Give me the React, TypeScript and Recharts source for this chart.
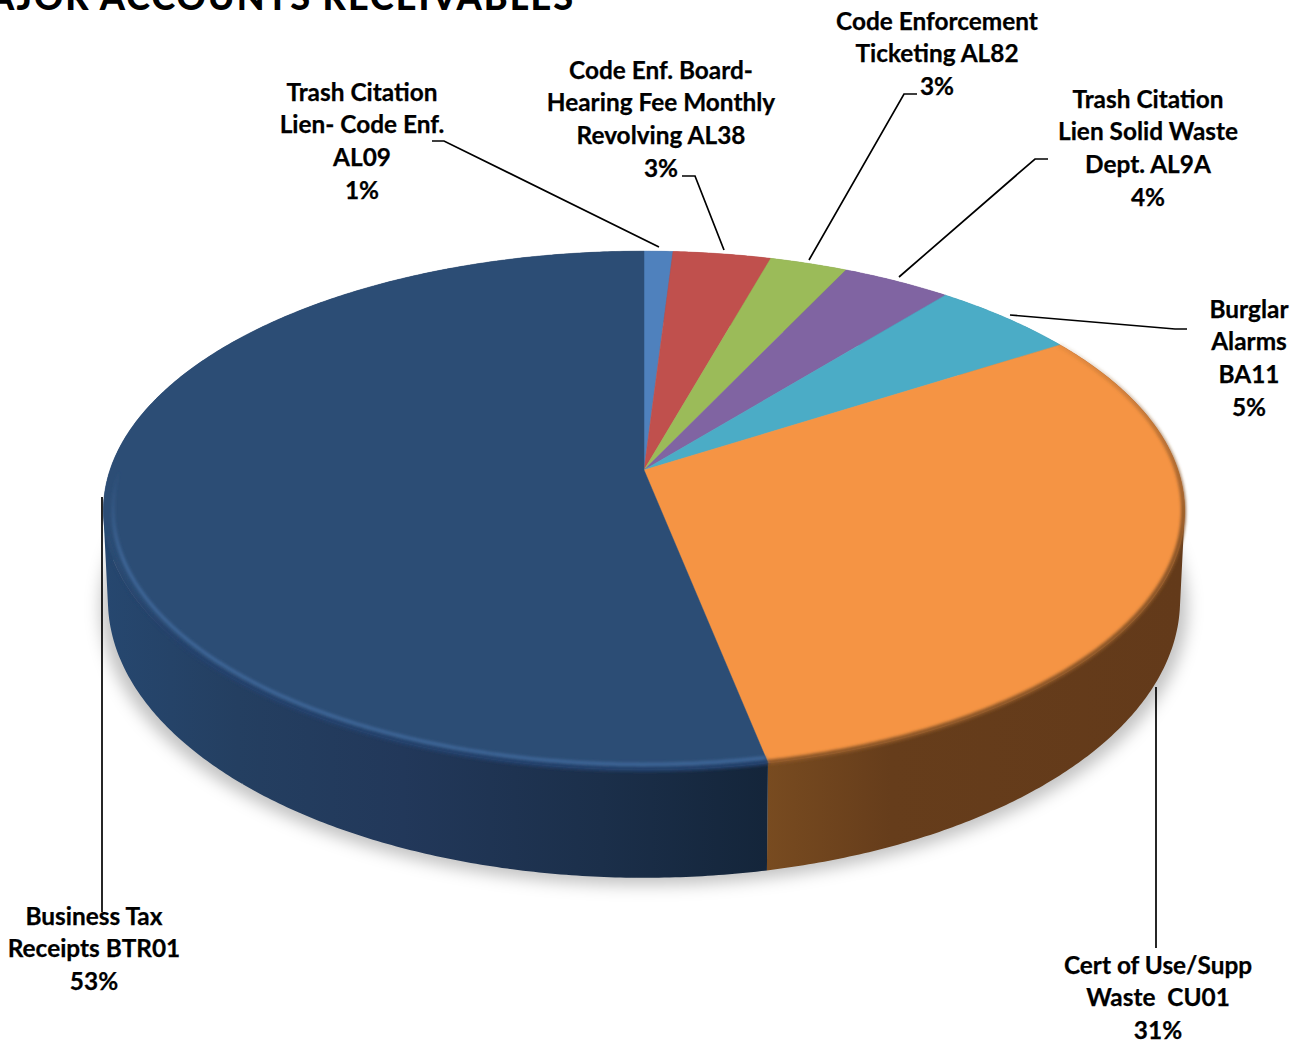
import { Pie, PieChart } from "recharts";

const names = [
  "Trash Citation Lien- Code Enf. AL09",
  "Code Enf. Board- Hearing Fee Monthly Revolving AL38",
  "Code Enforcement Ticketing AL82",
  "Trash Citation Lien Solid Waste Dept. AL9A",
  "Burglar Alarms BA11",
  "Cert of Use/Supp Waste CU01",
  "Business Tax Receipts BTR01",
];
const values = [1.0, 3.4, 2.7, 3.8, 5.1, 30.85, 53.15];
const topColors = ["#4f81bd", "#c0504d", "#9bbb59", "#8064a2", "#4bacc6", "#f59444", "#2c4d75"];
const wallColors = ["#3a5f8c", "#8e3b39", "#738b42", "#5f4a78", "#378093", "url(#wallOrange)", "url(#wallBlue)"];
const edgeColors = ["none", "none", "none", "none", "none", "url(#edgeOrange)", "url(#edgeBlue)"];
const glowColors = ["none", "none", "none", "none", "none", "none", "url(#glowBlue)"];

// label text, one entry per line
const labelLines = [
  ["Trash Citation", "Lien- Code Enf.", "AL09"],
  ["Code Enf. Board-", "Hearing Fee Monthly", "Revolving AL38"],
  ["Code Enforcement", "Ticketing AL82"],
  ["Trash Citation", "Lien Solid Waste", "Dept. AL9A"],
  ["Burglar", "Alarms", "BA11"],
  ["Cert of Use/Supp", "Waste  CU01"],
  ["Business Tax", "Receipts BTR01"],
];

// layout of the labels and leader lines (centre x, first baseline y, line points)
const labelLayout = [
  { x: 362, y: 100.7, line: "432,141 444,141 659,247" },
  { x: 661, y: 78.7, line: "682,176 695,176 724,250" },
  { x: 937, y: 29.7, line: "917,94 904,94 809,260" },
  { x: 1148, y: 107.7, line: "1048,159 1035,159 899,277" },
  { x: 1249, y: 317.7, line: "1010,315 1175,329 1187,329" },
  { x: 1158, y: 973.7, line: "1156,687 1156,948" },
  { x: 94, y: 924.7, line: "102,497 102,912" },
];

const total = values.reduce((a, b) => a + b, 0);
const topData = names.map((name, i) => ({ name, value: values[i], fill: topColors[i] }));
const wallData = names.map((name, i) => ({ name, value: values[i], fill: wallColors[i] }));
const edgeData = names.map((name, i) => ({ name, value: values[i], fill: edgeColors[i] }));
const glowData = names.map((name, i) => ({ name, value: values[i], fill: glowColors[i] }));
const shadowData = [{ name: "shadow", value: total, fill: "#000" }];

// the pie is a tilted disc, so a polar point goes through a perspective projection
const TILT = 0.156;
const TOP = { a: 1, b: 0.4738, dy: 0 };
const BOTTOM = { a: 0.9916, b: 0.5075, dy: 86.7 };
const SHADOW = { a: 1.005, b: 0.5075, dy: 94 };

type Disc = typeof TOP;

function project(cx: number, cy: number, r: number, deg: number, d: Disc) {
  const u = Math.cos((deg * Math.PI) / 180);
  const v = Math.sin((deg * Math.PI) / 180);
  const w = 1 + TILT * v;
  return [cx + (r * d.a * u) / w, cy + d.dy - (r * d.b * v) / w];
}

function arcPoints(cx: number, cy: number, r: number, start: number, end: number, d: Disc) {
  const n = Math.max(2, Math.ceil(Math.abs(end - start) * 2));
  const pts: number[][] = [];
  for (let i = 0; i <= n; i++) pts.push(project(cx, cy, r, start + ((end - start) * i) / n, d));
  return pts;
}

const fmt = (p: number[]) => `${p[0].toFixed(2)},${p[1].toFixed(2)}`;

function TopSlice(p: any) {
  const pts = arcPoints(p.cx, p.cy, p.outerRadius, p.startAngle, p.endAngle, TOP).map(fmt);
  return <path d={`M${p.cx},${p.cy}L${pts.join("L")}Z`} fill={p.fill} stroke={p.fill} strokeWidth={0.5} />;
}

// small quads between the two rims, all wound the same way so that they never cancel,
// which lets the silhouette run straight down at the sides
function WallSlice(p: any) {
  const upper = arcPoints(p.cx, p.cy, p.outerRadius, p.startAngle, p.endAngle, TOP);
  const lower = arcPoints(p.cx, p.cy, p.outerRadius, p.startAngle, p.endAngle, BOTTOM);
  let d = "";
  for (let i = 0; i < upper.length - 1; i++) {
    const quad = [upper[i], upper[i + 1], lower[i + 1], lower[i]];
    let area = 0;
    quad.forEach((a, k) => {
      const b = quad[(k + 1) % 4];
      area += a[0] * b[1] - b[0] * a[1];
    });
    if (area < 0) quad.reverse();
    d += `M${quad.map(fmt).join("L")}Z`;
  }
  return <path d={d} fill={p.fill} />;
}

function EdgeSlice(p: any) {
  if (p.fill === "none") return <g />;
  const pts = arcPoints(p.cx, p.cy, p.outerRadius * 0.998, p.startAngle, p.endAngle, TOP).map(fmt);
  return <path d={`M${pts.join("L")}`} fill="none" stroke={p.fill} strokeWidth={5} filter="url(#rimBlur)" />;
}

function GlowSlice(p: any) {
  if (p.fill === "none") return <g />;
  const pts = arcPoints(p.cx, p.cy, p.outerRadius * 0.982, p.startAngle, p.endAngle, TOP).map(fmt);
  return <path d={`M${pts.join("L")}`} fill="none" stroke={p.fill} strokeWidth={3} filter="url(#rimBlur)" />;
}

function ShadowSlice(p: any) {
  const pts = arcPoints(p.cx, p.cy, p.outerRadius, p.startAngle, p.endAngle, SHADOW).map(fmt);
  return <path d={`M${pts.join("L")}Z`} fill="#000" fillOpacity={0.24} filter="url(#shadowBlur)" />;
}

function SliceLabel(p: any) {
  const i = p.index;
  const { x, y, line } = labelLayout[i];
  const lines = [...labelLines[i], `${Math.round(values[i])}%`];
  return (
    <g>
      <polyline points={line} fill="none" stroke="#000" strokeWidth={1.7} />
      <text
        x={x}
        y={y}
        textAnchor="middle"
        fontFamily="Lato"
        fontWeight={700}
        fontSize={24.4}
        fill="#000"
        stroke="#000"
        strokeWidth={0.25}
      >
        {lines.map((t, k) => (
          <tspan key={k} x={x} y={y + k * 32.7} style={{ whiteSpace: "pre" }}>
            {t}
          </tspan>
        ))}
      </text>
    </g>
  );
}

export default function App() {
  const pieProps = {
    dataKey: "value",
    cx: 644,
    cy: 470,
    outerRadius: 534,
    startAngle: 90,
    endAngle: -270,
    isAnimationActive: false,
    stroke: "none",
  };
  return (
    <div style={{ position: "absolute", left: 0, top: 0, width: 1303, height: 1043, overflow: "hidden", background: "#fff" }}>
      <PieChart width={1303} height={1043} margin={{ top: 0, right: 0, bottom: 0, left: 0 }}>
        <defs>
          <linearGradient id="wallBlue" gradientUnits="userSpaceOnUse" x1={105} y1={0} x2={767} y2={0}>
            <stop offset="0" stopColor="#26476f" />
            <stop offset="0.2" stopColor="#243f61" />
            <stop offset="0.45" stopColor="#22385a" />
            <stop offset="0.75" stopColor="#1b2f4a" />
            <stop offset="1" stopColor="#14253a" />
          </linearGradient>
          <linearGradient id="wallOrange" gradientUnits="userSpaceOnUse" x1={767} y1={0} x2={1180} y2={0}>
            <stop offset="0" stopColor="#784b20" />
            <stop offset="0.3" stopColor="#663d1b" />
            <stop offset="1" stopColor="#633a1a" />
          </linearGradient>
          <linearGradient id="edgeBlue" gradientUnits="userSpaceOnUse" x1={0} y1={520} x2={0} y2={640}>
            <stop offset="0" stopColor="#24446b" stopOpacity={0} />
            <stop offset="1" stopColor="#24406a" />
          </linearGradient>
          <linearGradient id="glowBlue" gradientUnits="userSpaceOnUse" x1={0} y1={470} x2={0} y2={560}>
            <stop offset="0" stopColor="#41699c" stopOpacity={0} />
            <stop offset="1" stopColor="#41699c" />
          </linearGradient>
          <linearGradient id="edgeOrange" gradientUnits="userSpaceOnUse" x1={0} y1={350} x2={0} y2={540}>
            <stop offset="0" stopColor="#8a5526" stopOpacity={0.15} />
            <stop offset="1" stopColor="#8a5526" />
          </linearGradient>
          <filter id="rimBlur" filterUnits="userSpaceOnUse" x={0} y={0} width={1303} height={1043}>
            <feGaussianBlur stdDeviation={1.7} />
          </filter>
          <filter id="shadowBlur" filterUnits="userSpaceOnUse" x={0} y={0} width={1303} height={1043}>
            <feGaussianBlur stdDeviation={8} />
          </filter>
        </defs>
        <text x={575} y={10} textAnchor="end" fontFamily="Lato" fontWeight={900} fontSize={36} letterSpacing={2} fill="#000">
          MAJOR ACCOUNTS RECEIVABLES
        </text>
        <Pie {...pieProps} data={shadowData} shape={ShadowSlice} />
        <Pie {...pieProps} data={wallData} shape={WallSlice} />
        <Pie {...pieProps} data={topData} shape={TopSlice} />
        <Pie {...pieProps} data={edgeData} shape={EdgeSlice} />
        <Pie {...pieProps} data={glowData} shape={GlowSlice} label={SliceLabel} labelLine={false} />
      </PieChart>
    </div>
  );
}
